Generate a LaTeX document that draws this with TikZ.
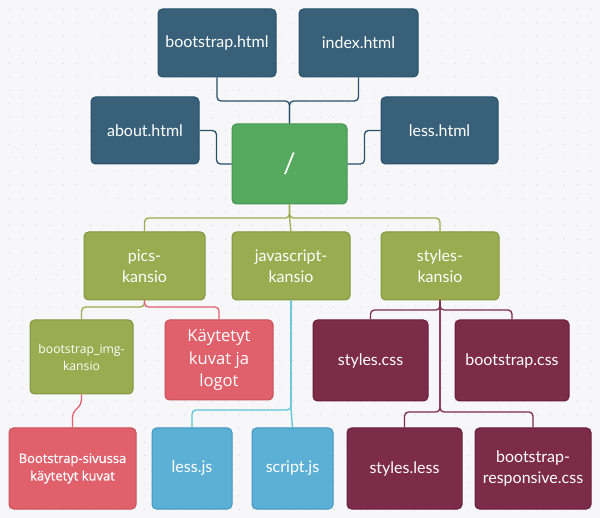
\documentclass[tikz,border=0pt]{standalone}
\usepackage{fontspec}
\setmainfont{Lato}
\newfontfamily\osans{Open Sans}
\newfontfamily\osanssb[FakeBold=0.8]{Open Sans}
\usetikzlibrary{calc}
\definecolor{bgc}{HTML}{F7F7FA}
\definecolor{dotc}{HTML}{DCDCE2}
\definecolor{bluef}{HTML}{386079}
\definecolor{blued}{HTML}{28506A}
\definecolor{rootf}{HTML}{56AA5F}
\definecolor{rootd}{HTML}{479553}
\definecolor{olivef}{HTML}{9BAB50}
\definecolor{olived}{HTML}{85953F}
\definecolor{redf}{HTML}{E0616C}
\definecolor{redd}{HTML}{C84F5A}
\definecolor{cyanf}{HTML}{5DB0D5}
\definecolor{cyand}{HTML}{3F96C0}
\definecolor{cyanl}{HTML}{5CC2D6}
\definecolor{maroonf}{HTML}{7D2C47}
\definecolor{maroond}{HTML}{681E38}
\tikzset{
  box/.style={draw, line width=1pt, rounded corners=4.5pt, text=white, align=center,
    inner sep=2pt, font=\fontsize{16}{21}\selectfont},
  bluebox/.style={box, fill=bluef, draw=blued},
  rootbox/.style={box, fill=rootf, draw=rootd},
  olivebox/.style={box, fill=olivef, draw=olived},
  redbox/.style={box, fill=redf, draw=redd},
  cyanbox/.style={box, fill=cyanf, draw=cyand},
  maroonbox/.style={box, fill=maroonf, draw=maroond},
  conn/.style={line width=1.3pt, rounded corners=4pt},
}
\newcommand{\bx}[6]{\node[#1, minimum width=#4pt, minimum height=#5pt] (#2) at (#3) {#6};}
\begin{document}
\begin{tikzpicture}[x=1pt,y=-1pt]
\fill[bgc] (0,0) rectangle (600,518);
\useasboundingbox (0,0) rectangle (600,518);
\foreach \i in {0,...,44}{\foreach \j in {0,...,38}{
  \fill[dotc] (9.4+13.52*\i, 9.2+13.52*\j) circle (0.75);}}
% nodes
\bx{bluebox}{bh}{217,43}{118}{68}{bootstrap.html}
\bx{bluebox}{ix}{358.5,43}{119}{68}{index.html}
\bx{bluebox}{ab}{145,130.5}{108}{67}{about.html}
\bx{bluebox}{lh}{439.5,130.5}{117}{67}{less.html}
\node[rootbox, minimum width=115pt, minimum height=80pt, font=\fontsize{28}{28}\selectfont] (root) at (289.5,164) {/};
\bx{olivebox}{pics}{144.5,266}{121}{68}{pics-\\kansio}
\bx{olivebox}{js}{291,266}{118}{68}{javascript-\\kansio}
\bx{olivebox}{sty}{440,266}{118}{68}{styles-\\kansio}
\node[olivebox, minimum width=103pt, minimum height=74pt, font=\osans\fontsize{12.2}{17}\selectfont] (bimg) at (81.5,357) {bootstrap\_img-\\kansio};
\node[redbox, minimum width=108pt, minimum height=80pt, font=\osans\fontsize{16.6}{22.5}\selectfont] (kay) at (219,360) {Käytetyt\\kuvat ja\\logot};
\bx{maroonbox}{scss}{370.5,360.5}{115}{81}{styles.css}
\bx{maroonbox}{bcss}{512,360.5}{114}{81}{bootstrap.css}
\node[redbox, minimum width=127pt, minimum height=81pt, font=\osanssb\fontsize{13}{17.5}\selectfont] (bsiv) at (72.5,468.5) {Bootstrap-sivussa\\käytetyt kuvat};
\bx{cyanbox}{lessjs}{192,468.5}{80}{81}{less.js}
\bx{cyanbox}{scriptjs}{292.5,468.5}{81}{81}{script.js}
\bx{maroonbox}{sless}{404.5,468.5}{115}{81}{styles.less}
\bx{maroonbox}{bresp}{533,468.5}{116}{81}{bootstrap-\\responsive.css}
% connectors
\draw[conn, blued] (root.north) -- (root.north |- 0,101) -| (bh.south);
\draw[conn, blued] (root.north) -- (root.north |- 0,101) -| (ix.south);
\draw[conn, blued] (ab.east) -- ++(17,0) |- (root.west);
\draw[conn, blued] (lh.west) -- ++(-16,0) |- (root.east);
\draw[conn, olivef] (root.south) -- (root.south |- 0,218) -| (pics.north);
\draw[conn, olivef] (root.south) -- (root.south |- 0,218) -| (sty.north);
\draw[conn, olivef] (root.south) -- (root.south |- 0,218) -- (js.north);
\draw[conn, olivef] (pics.south) -- (pics.south |- 0,307) -| (bimg.north);
\draw[conn, redf] (pics.south) -- (pics.south |- 0,307) -| (kay.north);
\draw[conn, redf] (bimg.south) -- (bimg.south |- 0,404) -- (bsiv.north |- 0,413) -- (bsiv.north);
\draw[conn, cyanl] (js.south) -- (js.south |- 0,410) -| (lessjs.north);
\draw[conn, cyanl] (js.south) -- (js.south |- 0,410) -- (scriptjs.north);
\draw[conn, maroonf] (sty.south) -- (sty.south |- 0,310) -| (scss.north);
\draw[conn, maroonf] (sty.south) -- (sty.south |- 0,310) -| (bcss.north);
\draw[conn, maroonf] (sty.south) -- (sty.south |- 0,412) -| (sless.north);
\draw[conn, maroonf] (sty.south) -- (sty.south |- 0,412) -| (bresp.north);
\end{tikzpicture}
\end{document}
